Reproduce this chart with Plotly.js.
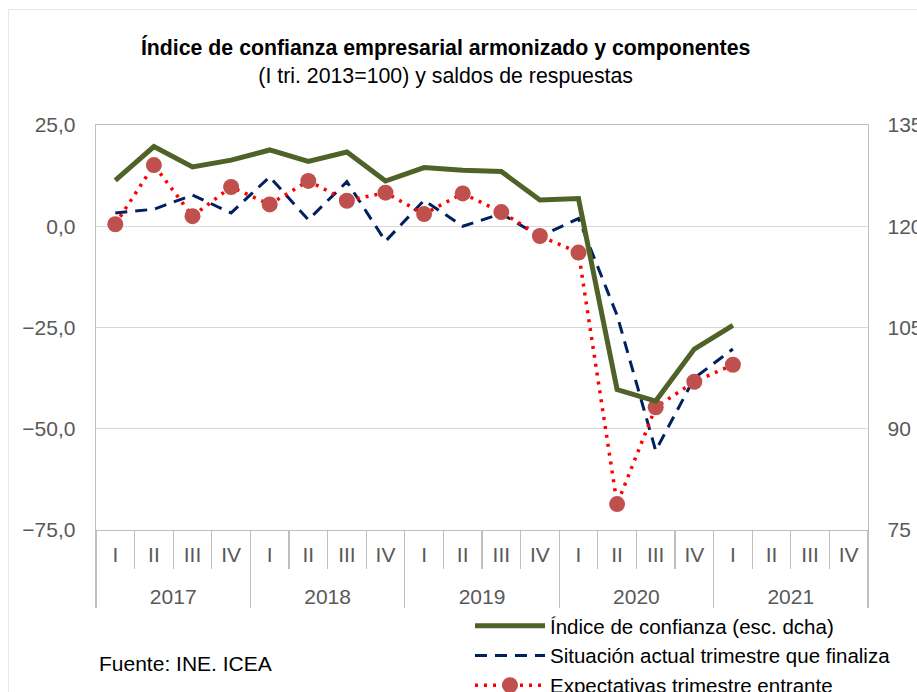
<!DOCTYPE html>
<html>
<head>
<meta charset="utf-8">
<script src="https://cdn.plot.ly/plotly-3.0.1.min.js"></script>
<style>
  html, body { margin: 0; padding: 0; background: #ffffff; overflow: hidden; }
  #chart { width: 917px; height: 692px; position: relative; }
  #frame { position: absolute; left: 8px; top: 9px; width: 2000px; height: 2000px;
           border-left: 1px solid #ebe8dc; border-top: 1px solid #ebe8dc; pointer-events: none; }
</style>
</head>
<body>
<div id="chart"></div>
<div id="frame"></div>
<script>
// ---- data ----
const years = ['2017','2017','2017','2017','2018','2018','2018','2018','2019','2019','2019','2019',
               '2020','2020','2020','2020','2021','2021','2021','2021'];
const quarters = ['I','II','III','IV','I','II','III','IV','I','II','III','IV',
                  'I','II','III','IV','I','II','III','IV'];
// Índice de confianza (right axis)
const indice = [126.8,131.8,128.8,129.8,131.3,129.6,131.0,126.7,128.7,128.3,128.1,123.9,
                124.1,95.8,94.1,101.8,105.3,null,null,null];
// Situación actual trimestre que finaliza (left axis)
const situacion = [3.3,4.2,7.7,3.3,12.2,1.6,11.0,-3.7,6.4,0.0,3.1,-2.5,
                   1.9,-22.0,-55.4,-37.5,-30.3,null,null,null];
// Expectativas trimestre entrante (left axis)
const expectativas = [0.5,15.1,2.5,9.7,5.4,11.2,6.3,8.3,3.0,8.1,3.5,-2.4,
                      -6.5,-68.6,-44.7,-38.4,-34.2,null,null,null];
const leftTicks = [-75,-50,-25,0,25];
const rightTicks = [75,90,105,120,135];

const FONT = 'Liberation Sans, Arial, sans-serif';
// label styling for the two-level category axis (years pushed one short line below quarters)
const big = s => '<span style="font-size:21px">' + s + '</span>';
const xcat = [years.map(y => '<br>' + big(y)), quarters.map(big)];

const traces = [
  {
    x: xcat, y: indice, yaxis: 'y2', type: 'scatter', mode: 'lines',
    name: 'Índice de confianza (esc. dcha)',
    line: {color: '#4f6228', width: 5}
  },
  {
    x: xcat, y: situacion, type: 'scatter', mode: 'lines',
    name: 'Situación actual trimestre que finaliza',
    line: {color: '#002060', width: 3, dash: '12px,8px'}
  },
  {
    x: xcat, y: expectativas, type: 'scatter', mode: 'lines+markers',
    name: 'Expectativas trimestre entrante',
    line: {color: '#ff0000', width: 3.5, dash: '3px,6px'},
    marker: {color: '#c0504d', size: 16}
  }
];

const layout = {
  width: 917, height: 692,
  margin: {l: 96, r: 49, t: 125, b: 162, autoexpand: false},
  paper_bgcolor: '#ffffff', plot_bgcolor: '#ffffff',
  separators: ',.',
  font: {family: FONT, size: 21, color: '#595959'},
  title: {
    text: '<b>Índice de confianza empresarial armonizado y componentes</b><br>(I tri. 2013=100) y saldos de respuestas',
    font: {family: FONT, size: 21.3, color: '#000000'},
    xref: 'container', x: 0.486, xanchor: 'center',
    yref: 'container', y: 1 - 55/692, yanchor: 'top'
  },
  showlegend: true,
  legend: {
    x: (470 - 96) / 772, xanchor: 'left', xref: 'paper',
    y: (530 - 606) / 405, yanchor: 'top', yref: 'paper',
    font: {family: FONT, size: 20.5, color: '#000000'},
    bgcolor: 'rgba(0,0,0,0)', itemwidth: 70, tracegroupgap: 0
  },
  xaxis: {
    type: 'multicategory', range: [-0.5, 19.5], autorange: false,
    showline: true, linecolor: '#bfbfbf', linewidth: 1.3, mirror: true,
    showgrid: false, zeroline: false,
    tickson: 'boundaries', ticks: 'outside', ticklen: 38, tickcolor: '#bfbfbf', tickwidth: 1.3,
    ticklabelstandoff: 8, tickangle: 0,
    showdividers: true, dividercolor: '#bfbfbf', dividerwidth: 1.3,
    tickfont: {family: FONT, size: 19, color: '#595959'}
  },
  yaxis: {
    range: [-75, 25], tickvals: leftTicks, tickformat: '.1f',
    showline: true, linecolor: '#bfbfbf', linewidth: 1.3,
    showgrid: true, gridcolor: '#d9d9d9', gridwidth: 1.3, zeroline: false,
    ticks: '', ticklabelstandoff: 15,
    tickfont: {family: FONT, size: 21, color: '#595959'}
  },
  yaxis2: {
    range: [75, 135], tickvals: rightTicks, overlaying: 'y', side: 'right',
    showline: true, linecolor: '#bfbfbf', linewidth: 1.3,
    showgrid: false, zeroline: false,
    ticks: '', ticklabelstandoff: 14,
    tickfont: {family: FONT, size: 21, color: '#595959'}
  },
  annotations: [
    {
      text: 'Fuente: INE. ICEA', showarrow: false,
      xref: 'paper', x: (97 - 96) / 772, xanchor: 'left',
      yref: 'paper', y: (530 - 663) / 405, yanchor: 'middle',
      font: {family: FONT, size: 21, color: '#000000'}
    }
  ]
};

Plotly.newPlot('chart', traces, layout, {displayModeBar: false, staticPlot: true});
</script>
</body>
</html>
